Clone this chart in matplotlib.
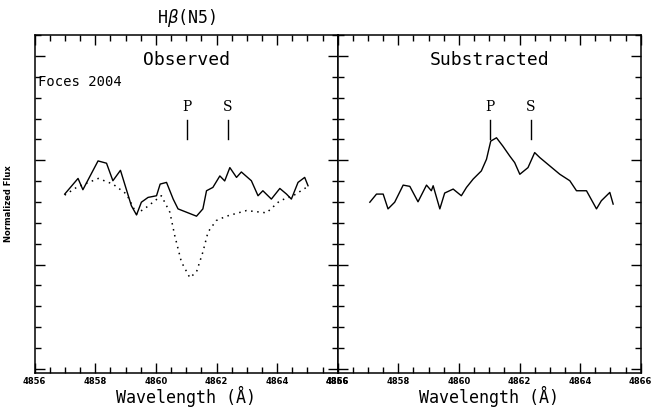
import matplotlib.pyplot as plt
from matplotlib.ticker import MultipleLocator, NullFormatter

# Observed spectrum (solid) and template (dotted)
obs_wl = [4856.99, 4857.43, 4857.59, 4858.09, 4858.37, 4858.58, 4858.83, 4859.19, 4859.36, 4859.52,
          4859.74, 4860.02, 4860.14, 4860.35, 4860.57, 4860.73, 4861.01, 4861.34, 4861.55, 4861.67,
          4861.88, 4862.11, 4862.27, 4862.44, 4862.66, 4862.82, 4863.15, 4863.37, 4863.53, 4863.81,
          4864.09, 4864.31, 4864.47, 4864.69, 4864.91, 4865.02]
obs_flux = [0.838, 0.913, 0.859, 0.997, 0.986, 0.902, 0.952, 0.782, 0.738, 0.799,
            0.822, 0.830, 0.886, 0.894, 0.814, 0.767, 0.751, 0.732, 0.767, 0.854,
            0.870, 0.925, 0.901, 0.965, 0.918, 0.944, 0.902, 0.830, 0.854, 0.814,
            0.865, 0.838, 0.814, 0.894, 0.918, 0.878]

tmpl_wl = [4856.99, 4857.38, 4858.10, 4858.58, 4859.03, 4859.36, 4859.69, 4860.18, 4860.46, 4860.62,
           4860.84, 4861.12, 4861.34, 4861.55, 4861.72, 4861.99, 4862.33, 4862.99, 4863.65, 4864.09,
           4864.53, 4865.02]
tmpl_flux = [0.833, 0.870, 0.913, 0.886, 0.838, 0.743, 0.775, 0.830, 0.751, 0.640,
             0.513, 0.437, 0.465, 0.560, 0.656, 0.711, 0.732, 0.759, 0.748, 0.806,
             0.830, 0.875]

sub_wl = [4857.06, 4857.28, 4857.50, 4857.66, 4857.88, 4858.16, 4858.38, 4858.65, 4858.93, 4859.09,
          4859.15, 4859.37, 4859.53, 4859.81, 4860.08, 4860.25, 4860.47, 4860.74, 4860.91, 4861.05,
          4861.24, 4861.45, 4861.68, 4861.84, 4862.01, 4862.28, 4862.50, 4862.67, 4863.00, 4863.33,
          4863.66, 4863.88, 4864.21, 4864.54, 4864.70, 4864.98, 4865.09]
sub_flux = [0.799, 0.838, 0.838, 0.767, 0.799, 0.881, 0.875, 0.801, 0.881, 0.854,
            0.878, 0.767, 0.843, 0.862, 0.830, 0.870, 0.910, 0.949, 1.005, 1.092,
            1.108, 1.068, 1.020, 0.989, 0.933, 0.965, 1.037, 1.013, 0.973, 0.933,
            0.902, 0.854, 0.854, 0.767, 0.806, 0.846, 0.790]

p_wl, s_wl = 4861.03, 4862.37
xticks = [4856, 4858, 4860, 4862, 4864, 4866]

fig = plt.figure(figsize=(6.55, 4.09), dpi=100)
ax1 = fig.add_axes([0.053, 0.088, 0.4626, 0.826])
ax2 = fig.add_axes([0.5156, 0.088, 0.4626, 0.826])

ax1.plot(obs_wl, obs_flux, color='k', lw=1)
ax1.plot(tmpl_wl, tmpl_flux, color='k', lw=1.1, ls=(0, (1, 3)))
ax2.plot(sub_wl, sub_flux, color='k', lw=1)

for ax, title in [(ax1, 'Observed'), (ax2, 'Substracted')]:
    ax.set_xlim(4856, 4866)
    ax.set_ylim(-0.02, 1.6)
    ax.set_xticks(xticks)
    ax.set_xticklabels([str(t) for t in xticks], fontsize=6, fontweight='bold')
    ax.xaxis.set_minor_locator(MultipleLocator(0.5))
    ax.yaxis.set_major_locator(MultipleLocator(0.5))
    ax.yaxis.set_minor_locator(MultipleLocator(0.1))
    ax.yaxis.set_major_formatter(NullFormatter())
    ax.tick_params(which='both', direction='in', top=True, right=True, width=1)
    ax.tick_params(which='major', length=7, pad=3)
    ax.tick_params(which='minor', length=4)
    for sp in ax.spines.values():
        sp.set_linewidth(1.1)
    ax.set_xlabel('Wavelength (Å)', fontsize=12, family='DejaVu Sans Mono', labelpad=0)
    ax.text(4861, 1.48, title, ha='center', va='center', fontsize=13, family='DejaVu Sans Mono')
    for wl, lab in [(p_wl, 'P'), (s_wl, 'S')]:
        ax.plot([wl, wl], [1.10, 1.195], color='k', lw=1)
        ax.text(wl, 1.255, lab, ha='center', va='center', fontsize=10, family='DejaVu Serif')

ax1.text(4856.1, 1.376, 'Foces 2004', ha='left', va='center', fontsize=10, family='DejaVu Sans Mono')
ax1.set_ylabel('Normalized Flux', fontsize=6, fontweight='bold', labelpad=12)
fig.text(0.285, 0.955, r'H$\beta$(N5)', ha='center', va='center', fontsize=12, family='DejaVu Sans Mono')

fig.savefig('out.png', dpi=100)
